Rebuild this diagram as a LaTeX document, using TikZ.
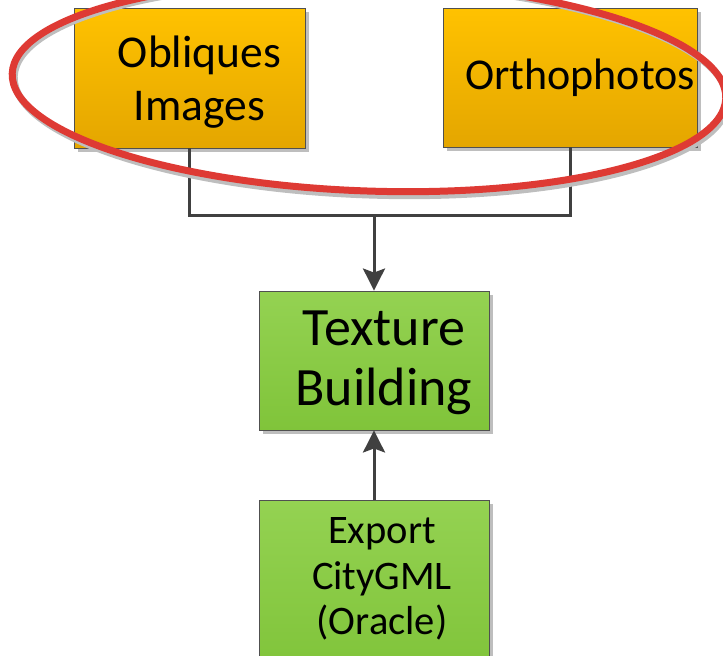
\documentclass[tikz,border=0pt]{standalone}
\usepackage{fontspec}
\setmainfont{Carlito}
\usetikzlibrary{arrows.meta,shadows}
\definecolor{orTop}{RGB}{255,194,0}
\definecolor{orBot}{RGB}{228,166,0}
\definecolor{grTop}{RGB}{148,210,82}
\definecolor{grBot}{RGB}{128,196,58}
\definecolor{edgeC}{RGB}{80,80,80}
\definecolor{lineC}{RGB}{64,64,64}
\definecolor{redC}{RGB}{222,58,52}
\definecolor{shC}{RGB}{190,190,190}
\tikzset{
  box/.style={draw=edgeC, line width=0.9pt, inner sep=0pt,
    drop shadow={shadow xshift=4pt, shadow yshift=-4pt, fill=shC, opacity=1}},
  orangebox/.style={box, top color=orTop, bottom color=orBot},
  greenbox/.style={box, top color=grTop, bottom color=grBot},
  lbl/.style={align=center, inner sep=0pt, text=black},
  conn/.style={draw=lineC, line width=3pt},
  arr/.style={conn, -{Stealth[length=22pt, width=22pt, inset=4pt]}},
}
\begin{document}
\begin{tikzpicture}[x=1pt, y=-1pt]
\useasboundingbox (0,0) rectangle (723,656);
\begin{scope}
\clip (0,0) rectangle (723,656);
% boxes
\node[orangebox, minimum width=231pt, minimum height=140pt] (obl) at (189.5,78) {};
\node[orangebox, minimum width=254pt, minimum height=139pt] (ort) at (570,77.5) {};
\node[greenbox, minimum width=230pt, minimum height=139pt] (tex) at (374,360.5) {};
\node[greenbox, minimum width=230pt, minimum height=170pt] (exp) at (374,585) {};
% labels
\node[lbl, font=\fontsize{45.5}{53}\selectfont] (oblT) at (199.5,82) {Obliques\\Images};
\node[lbl, font=\fontsize{44}{53}\selectfont] (ortT) at (580,78) {Orthophotos};
\node[lbl, font=\fontsize{54}{60}\selectfont] (texT) at (384,363) {Texture\\Building};
\node[lbl, font=\fontsize{40.5}{45.5}\selectfont] (expT) at (382,579) {Export\\CityGML\\(Oracle)};
% connectors
\coordinate (j) at (374,215);
\draw[conn] (obl.south) |- (j) -| (ort.south);
\draw[arr] (j) -- (tex.north);
\draw[arr] (exp.north) -- (tex.south);
% ellipse
\draw[shC, line width=7pt] (371,89) ellipse [x radius=357, y radius=106, rotate=-2];
\draw[redC, line width=7pt] (369,86) ellipse [x radius=357, y radius=105, rotate=-2];
\end{scope}
\end{tikzpicture}
\end{document}
